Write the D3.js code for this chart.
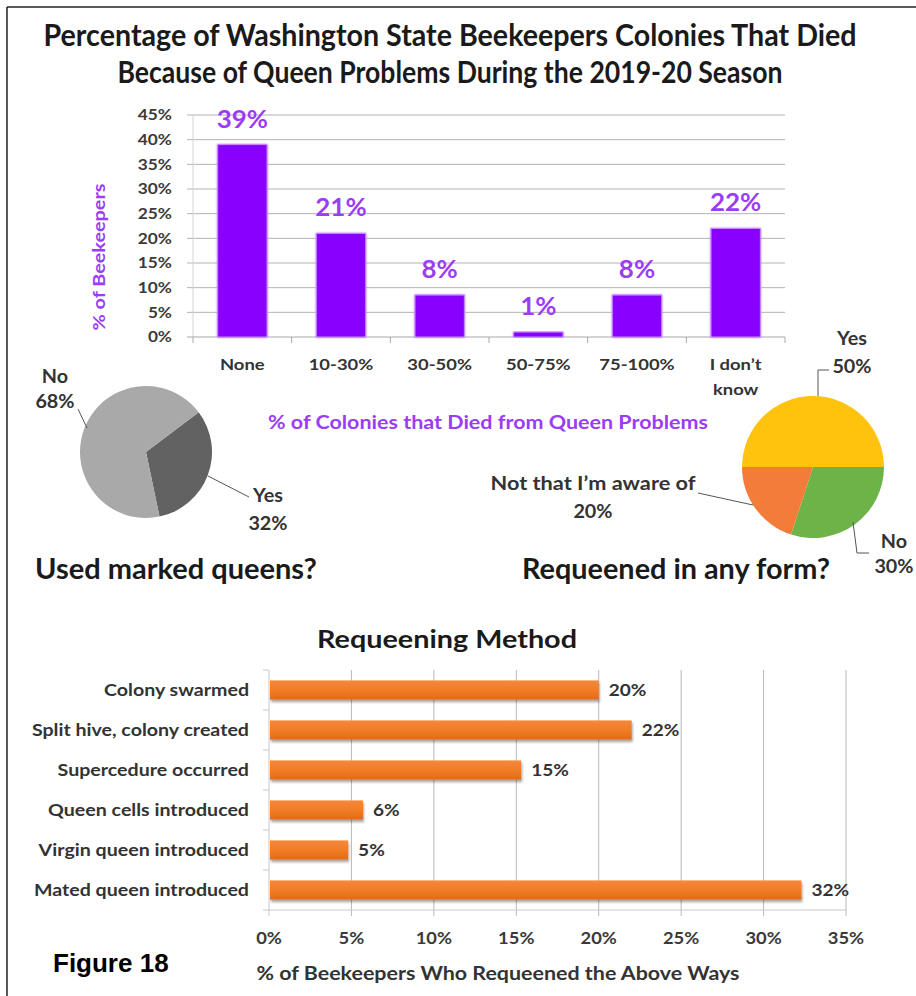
<!DOCTYPE html>
<html><head><meta charset="utf-8">
<script src="https://cdn.jsdelivr.net/npm/d3@7"></script>
<style>
body{margin:0;background:#fff}
svg{display:block}
text{font-family:Lato,"Open Sans",sans-serif;font-weight:700}
</style>
</head><body>
<svg id="c" width="916" height="996"></svg>
<script>
// ---------- data ----------
const titleLines = ["Percentage of Washington State Beekeepers Colonies That Died",
                    "Because of Queen Problems During the 2019-20  Season"];
const lossCategories = ["None", "10-30%", "30-50%", "50-75%", "75-100%", "I don’t\nknow"];
const lossValues = [39, 21, 8.5, 1, 8.5, 22];
const lossLabels = ["39%", "21%", "8%", "1%", "8%", "22%"];
const lossTicks = [0, 5, 10, 15, 20, 25, 30, 35, 40, 45];

const markedCategories = ["Yes", "No"];
const markedValues = [32, 68];

const requeenCategories = ["Yes", "No", "Not that I’m aware of"];
const requeenValues = [50, 30, 20];

const methodCategories = ["Colony swarmed", "Split hive, colony created", "Supercedure occurred",
                          "Queen cells introduced", "Virgin queen introduced", "Mated queen introduced"];
const methodValues = [20, 22, 15.3, 5.7, 4.8, 32.3];
const methodTicks = [0, 5, 10, 15, 20, 25, 30, 35];

// ---------- helpers ----------
const svg = d3.select("#c");
const pct = d => d + "%";
function fit(sel, w) {            // scale font-size to reach a width
  sel.each(function () {
    const l = this.getComputedTextLength();
    const fs = parseFloat(this.getAttribute("font-size"));
    this.setAttribute("font-size", (fs * w / l).toFixed(2));
  });
  return sel;
}
function squeeze(sel, w) {        // keep height, force width
  sel.attr("textLength", w).attr("lengthAdjust", "spacingAndGlyphs");
  return sel;
}
function stretch(sel, k) {        // widen glyphs by factor k
  sel.each(function () {
    const l = this.getComputedTextLength();
    this.setAttribute("textLength", (l * k).toFixed(1));
    this.setAttribute("lengthAdjust", "spacingAndGlyphs");
  });
  return sel;
}

const defs = svg.append("defs");
const soft = defs.append("filter").attr("id", "soft").attr("x", "-10%").attr("y", "-10%").attr("width", "120%").attr("height", "120%");
soft.append("feGaussianBlur").attr("stdDeviation", 0.7);
const shadow = defs.append("filter").attr("id", "shadow").attr("x", "-5%").attr("y", "-30%").attr("width", "115%").attr("height", "180%");
shadow.append("feDropShadow").attr("dx", 1).attr("dy", 2.5).attr("stdDeviation", 1.3)
  .attr("flood-color", "#000").attr("flood-opacity", 0.35);
const og = defs.append("linearGradient").attr("id", "og").attr("x1", 0).attr("y1", 0).attr("x2", 0).attr("y2", 1);
og.append("stop").attr("offset", "0%").attr("stop-color", "#F5893A");
og.append("stop").attr("offset", "55%").attr("stop-color", "#F07B25");
og.append("stop").attr("offset", "100%").attr("stop-color", "#E06A18");
const glow = defs.append("filter").attr("id", "glow").attr("x", "-20%").attr("y", "-20%").attr("width", "140%").attr("height", "140%");
glow.append("feGaussianBlur").attr("in", "SourceGraphic").attr("stdDeviation", 1.2).attr("result", "b");
const gm = glow.append("feMerge");
gm.append("feMergeNode").attr("in", "b");
gm.append("feMergeNode").attr("in", "SourceGraphic");

// ---------- frame ----------
svg.append("line").attr("x1", 7).attr("y1", 7).attr("x2", 916).attr("y2", 7).attr("stroke", "#222").attr("stroke-width", 1.5);
svg.append("line").attr("x1", 7).attr("y1", 7).attr("x2", 7).attr("y2", 996).attr("stroke", "#222").attr("stroke-width", 1.5);

// ---------- title ----------
squeeze(svg.append("text").attr("x", 450).attr("y", 46).attr("text-anchor", "middle")
  .attr("font-size", 30).attr("fill", "#1a1a1a").text(titleLines[0]), 813);
squeeze(svg.append("text").attr("x", 450).attr("y", 83).attr("text-anchor", "middle")
  .attr("font-size", 30).attr("fill", "#1a1a1a").text(titleLines[1]), 665);

// ---------- top bar chart ----------
const gTop = svg.append("g");
const xT = d3.scaleBand().domain(lossCategories).range([193, 785]).paddingInner(0.5).paddingOuter(0.25);
const yT = d3.scaleLinear().domain([0, 45]).range([337, 115]);

gTop.append("g").selectAll("line").data(lossTicks.filter(d => d > 0)).join("line")
  .attr("x1", 187).attr("x2", 785).attr("y1", d => yT(d)).attr("y2", d => yT(d))
  .attr("stroke", "#b3b3b3").attr("stroke-width", 1);
gTop.append("line").attr("x1", 193).attr("x2", 193).attr("y1", 115).attr("y2", 337).attr("stroke", "#d4d4d4");
gTop.append("line").attr("x1", 187).attr("x2", 785).attr("y1", 337).attr("y2", 337).attr("stroke", "#a8a8a8");
const bounds = lossCategories.map(c => xT(c) - xT.step() * xT.paddingInner() / 2).concat([785]);
gTop.append("g").selectAll("line").data(bounds).join("line")
  .attr("x1", d => d).attr("x2", d => d).attr("y1", 337).attr("y2", 343).attr("stroke", "#a8a8a8");

stretch(gTop.append("g").selectAll("text").data(lossTicks).join("text")
  .attr("x", 172).attr("y", d => yT(d)).attr("dy", "0.36em").attr("text-anchor", "end")
  .attr("font-size", 15).attr("fill", "#3a3a3a").text(pct), 1.15);

gTop.append("g").selectAll("rect").data(lossCategories).join("rect")
  .attr("x", d => xT(d)).attr("width", xT.bandwidth())
  .attr("y", (d, i) => yT(lossValues[i])).attr("height", (d, i) => yT(0) - yT(lossValues[i]))
  .attr("fill", "#8A00FF").attr("stroke", "#c58cff").attr("stroke-width", 1).attr("filter", "url(#glow)");

stretch(gTop.append("g").selectAll("text").data(lossCategories).join("text")
  .attr("x", d => xT(d) + xT.bandwidth() / 2).attr("y", (d, i) => yT(lossValues[i]) - 17)
  .attr("text-anchor", "middle").attr("font-size", 24).attr("fill", "#9B3CF7")
  .text((d, i) => lossLabels[i]), 1.08);

const catT = gTop.append("g").selectAll("text").data(lossCategories).join("text")
  .attr("x", d => xT(d) + xT.bandwidth() / 2).attr("y", 370)
  .attr("text-anchor", "middle").attr("font-size", 16).attr("fill", "#333");
stretch(catT.selectAll("tspan").data(d => d.split("\n")).join("tspan")
  .attr("x", function () { return this.parentNode.getAttribute("x"); })
  .attr("dy", (d, i) => i ? 25 : 0).text(d => d), 1.15);

const yTitle = gTop.append("text").attr("transform", "translate(105,257) rotate(-90)")
  .attr("text-anchor", "middle").attr("font-size", 17).attr("fill", "#9B3CF7").text("% of Beekeepers");
squeeze(yTitle, 147);
const xTitle = gTop.append("text").attr("x", 488).attr("y", 429).attr("text-anchor", "middle")
  .attr("font-size", 18).attr("fill", "#9B3CF7").text("% of Colonies that Died from Queen Problems");
squeeze(xTitle, 440);

// ---------- left pie ----------
const lp = svg.append("g").attr("transform", "translate(146,452)");
const lpArcs = d3.pie().sort(null).startAngle(0.925).endAngle(0.925 + 2 * Math.PI)(markedValues);
const lpColor = d3.scaleOrdinal().domain(markedCategories).range(["#626262", "#a9a9a9"]);
lp.selectAll("path").data(lpArcs).join("path")
  .attr("d", d3.arc().innerRadius(0).outerRadius(66))
  .attr("fill", (d, i) => lpColor(markedCategories[i])).attr("filter", "url(#soft)");

const leader = (pts) => svg.append("polyline").attr("points", pts.map(p => p.join(",")).join(" "))
  .attr("fill", "none").attr("stroke", "#555").attr("stroke-width", 1);
leader([[78, 409], [87, 428]]);
leader([[208, 476], [249, 497]]);

function label2(x, y1, y2, a, b, w) {
  const s1 = svg.append("text").attr("x", x).attr("y", y1).attr("text-anchor", "middle").attr("font-size", 18).attr("fill", "#333").text(a);
  const s2 = svg.append("text").attr("x", x).attr("y", y2).attr("text-anchor", "middle").attr("font-size", 18).attr("fill", "#333").text(b);
  if (w) squeeze(s1, w); else stretch(s1, 1.1);
  stretch(s2, 1.1);
}
label2(55, 383, 408, markedCategories[1], pct(markedValues[1]));
label2(268, 502, 530, markedCategories[0], pct(markedValues[0]));

const lpT = svg.append("text").attr("x", 35).attr("y", 579).attr("font-size", 23).attr("fill", "#1a1a1a").text("Used marked queens?");
fit(lpT, 282);

// ---------- right pie ----------
const rp = svg.append("g").attr("transform", "translate(813,467)");
const rpArcs = d3.pie().sort(null).startAngle(-Math.PI / 2).endAngle(1.5 * Math.PI)(requeenValues);
const rpColor = d3.scaleOrdinal().domain(requeenCategories).range(["#FFC20E", "#6DB347", "#F47B3A"]);
rp.selectAll("path").data(rpArcs).join("path")
  .attr("d", d3.arc().innerRadius(0).outerRadius(71))
  .attr("fill", (d, i) => rpColor(requeenCategories[i])).attr("filter", "url(#soft)");

leader([[818, 396], [818, 370], [829, 370]]);
leader([[698, 493], [753, 505]]);
leader([[853, 522], [857, 553], [869, 553]]);
label2(852, 345, 373, requeenCategories[0], pct(requeenValues[0]));
label2(593, 490, 518, requeenCategories[2], pct(requeenValues[2]), 205);
label2(894, 548, 573, requeenCategories[1], pct(requeenValues[1]));

const rpT = svg.append("text").attr("x", 522).attr("y", 579).attr("font-size", 23).attr("fill", "#1a1a1a").text("Requeened in any form?");
fit(rpT, 308);

// ---------- bottom bar chart ----------
const bot = svg.append("g");
const xB = d3.scaleLinear().domain([0, 35]).range([269, 846]);
const yB = d3.scaleBand().domain(methodCategories).range([670, 910]).paddingInner(0.52).paddingOuter(0.26);

squeeze(bot.append("text").attr("x", 447).attr("y", 648).attr("text-anchor", "middle")
  .attr("font-size", 25).attr("fill", "#1a1a1a").text("Requeening Method"), 260);

bot.append("g").selectAll("line").data(methodTicks.filter(d => d > 0)).join("line")
  .attr("x1", d => xB(d)).attr("x2", d => xB(d)).attr("y1", 670).attr("y2", 916)
  .attr("stroke", "#b8b8b8");
bot.append("line").attr("x1", 269).attr("x2", 269).attr("y1", 670).attr("y2", 916).attr("stroke", "#c8c8c8");
bot.append("line").attr("x1", 269).attr("x2", 846).attr("y1", 910).attr("y2", 910).attr("stroke", "#c8c8c8");
const bBounds = methodCategories.map(c => yB(c) - yB.step() * yB.paddingInner() / 2).concat([910]);
bot.append("g").selectAll("line").data(bBounds).join("line")
  .attr("x1", 263).attr("x2", 269).attr("y1", d => d).attr("y2", d => d).attr("stroke", "#c8c8c8");

bot.append("g").selectAll("rect").data(methodCategories).join("rect")
  .attr("x", xB(0) + 1).attr("y", d => yB(d)).attr("height", yB.bandwidth())
  .attr("width", (d, i) => xB(methodValues[i]) - xB(0) - 1)
  .attr("fill", "url(#og)").attr("filter", "url(#shadow)");

stretch(bot.append("g").selectAll("text").data(methodCategories).join("text")
  .attr("x", (d, i) => xB(methodValues[i]) + 10).attr("y", d => yB(d) + yB.bandwidth() / 2).attr("dy", "0.36em")
  .attr("font-size", 17).attr("fill", "#333").text((d, i) => pct(Math.round(methodValues[i]))), 1.12);

stretch(bot.append("g").selectAll("text").data(methodCategories).join("text")
  .attr("x", 249).attr("y", d => yB(d) + yB.bandwidth() / 2).attr("dy", "0.36em").attr("text-anchor", "end")
  .attr("font-size", 17.5).attr("fill", "#333").text(d => d), 1.12);

stretch(bot.append("g").selectAll("text").data(methodTicks).join("text")
  .attr("x", d => xB(d)).attr("y", 944).attr("text-anchor", "middle")
  .attr("font-size", 17).attr("fill", "#3a3a3a").text(pct), 1.08);

squeeze(bot.append("text").attr("x", 498).attr("y", 980).attr("text-anchor", "middle")
  .attr("font-size", 19).attr("fill", "#333").text("% of Beekeepers Who Requeened the Above Ways"), 483);

svg.append("text").attr("x", 53).attr("y", 972)
  .style("font-family", "'Liberation Sans', Arial, sans-serif").style("font-weight", "700")
  .attr("font-size", 26).attr("fill", "#000").text("Figure 18");
</script>
</body></html>
